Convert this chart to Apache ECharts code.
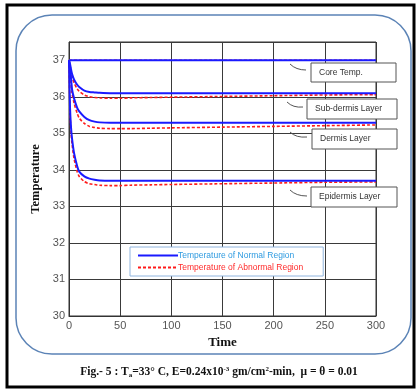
<!DOCTYPE html>
<html>
<head>
<meta charset="utf-8">
<script src="https://cdn.jsdelivr.net/npm/echarts@6/dist/echarts.min.js"></script>
<style>html,body{margin:0;padding:0;background:#fff;}#c{width:419px;height:392px;}</style>
</head>
<body>
<div id="c"></div>
<script>
// ---- data ----
var times = [0,1,2,3,5,8,10,15,20,25,30,40,50,60,80,100,150,200,250,300];
var coreNormal      = [37,37,37,37,37,37,37,37,37,37,37,37,37,37,37,37,37,37,37,37];
var coreAbnormal    = [37,37,37,37,37,37,37,37,37,37,37,37,37,37,37,37,37,37,37,37];
var subdermNormal   = [37,36.9,36.75,36.62,36.47,36.33,36.27,36.17,36.13,36.12,36.11,36.1,36.1,36.1,36.1,36.1,36.1,36.1,36.1,36.1];
var subdermAbnormal = [37,36.85,36.7,36.55,36.38,36.22,36.15,36.05,36.0,35.98,35.97,35.96,35.96,35.97,35.98,35.99,36.01,36.03,36.05,36.06];
var dermNormal      = [37,36.75,36.5,36.2,35.95,35.7,35.6,35.45,35.36,35.32,35.3,35.29,35.29,35.29,35.29,35.29,35.29,35.29,35.29,35.29];
var dermAbnormal    = [37,36.7,36.4,36.1,35.82,35.55,35.42,35.27,35.19,35.16,35.14,35.13,35.13,35.13,35.14,35.15,35.17,35.19,35.21,35.23];
var epiNormal       = [37,35.7,35.15,34.85,34.45,34.1,33.95,33.82,33.76,33.73,33.71,33.7,33.7,33.7,33.7,33.7,33.7,33.7,33.7,33.7];
var epiAbnormal     = [37,35.6,35.0,34.7,34.3,33.95,33.82,33.68,33.62,33.6,33.58,33.57,33.57,33.58,33.59,33.6,33.62,33.64,33.66,33.67];
var xTicks = [0,50,100,150,200,250,300];
var yTicks = [30,31,32,33,34,35,36,37];
var layerLabels = ['Core Temp.','Sub-dermis Layer','Dermis Layer','Epidermis Layer'];
var legendNames = ['Temperature of Normal Region','Temperature of Abnormal Region'];

function pairs(arr){ return times.map(function(t,i){ return [t, arr[i]]; }); }

var normalSets = [coreNormal, subdermNormal, dermNormal, epiNormal];
var abnormalSets = [coreAbnormal, subdermAbnormal, dermAbnormal, epiAbnormal];

var series = [];
abnormalSets.forEach(function(a){
  series.push({type:'line', name:legendNames[1], data:pairs(a), showSymbol:false, symbol:'none', smooth:0.25,
    lineStyle:{color:'#ff1a1a', width:1.6, type:[3,2]}, itemStyle:{color:'#ff1a1a'}, z:2, animation:false});
});
normalSets.forEach(function(a){
  series.push({type:'line', name:legendNames[0], data:pairs(a), showSymbol:false, symbol:'none', smooth:0.25,
    lineStyle:{color:'#1a1aff', width:2}, itemStyle:{color:'#1a1aff'}, z:3, animation:false});
});

// annotation boxes
var boxes = [
  {x:311, y:63, w:85, h:19, lead:[290,64,296,70,306,70]},
  {x:307, y:99, w:90, h:20, lead:[287,102,293,108,303,107]},
  {x:312, y:129, w:85, h:20, lead:[290,132,296,138,307,137]},
  {x:311, y:187, w:86, h:20, lead:[290,190,296,196,307,196]}
];
var graphics = [
  {type:'rect', shape:{x:7,y:5,width:407,height:382}, style:{fill:'none', stroke:'#000', lineWidth:3}, z:-10},
  {type:'rect', shape:{x:16,y:15,width:395,height:339,r:36}, style:{fill:'#fff', stroke:'#5b83b6', lineWidth:1.5}, z:-9},
  {type:'text', x:219, y:372, style:{
     text:'{a|Fig.- 5 : T}{s|a}{a|=33° C, E=0.24x10}{p|-3}{a| gm/cm}{p|2}{a|-min,  μ = θ = 0.01}',
     textAlign:'center', textVerticalAlign:'middle',
     rich:{
       a:{fontFamily:'Liberation Serif', fontWeight:'bold', fontSize:11.5, fill:'#111', lineHeight:13},
       s:{fontFamily:'Liberation Serif', fontWeight:'bold', fontSize:7, fill:'#111', lineHeight:13, verticalAlign:'bottom', padding:[4,0,0,0]},
       p:{fontFamily:'Liberation Serif', fontWeight:'bold', fontSize:7, fill:'#111', lineHeight:13, verticalAlign:'top', padding:[0,0,5,0]}
     }}, z:10}
];
boxes.forEach(function(b,i){
  graphics.push({type:'bezierCurve', shape:{x1:b.lead[0],y1:b.lead[1],cpx1:b.lead[2],cpy1:b.lead[3],x2:b.lead[4],y2:b.lead[5]},
    style:{stroke:'#555', lineWidth:1, fill:'none'}, z:20});
  graphics.push({type:'rect', shape:{x:b.x,y:b.y,width:b.w,height:b.h}, style:{fill:'#fff', stroke:'#555', lineWidth:1}, z:20});
  graphics.push({type:'text', x:b.x+8, y:b.y+b.h/2, style:{text:layerLabels[i], fill:'#333', fontSize:8.5, fontFamily:'Liberation Sans', textVerticalAlign:'middle'}, z:21});
});

var chart = echarts.init(document.getElementById('c'), null, {renderer:'canvas'});
chart.setOption({
  animation:false,
  backgroundColor:'#fff',
  grid:{left:69, right:43, top:42, bottom:76, show:true, borderColor:'#333', borderWidth:1, backgroundColor:'transparent'},
  xAxis:{type:'value', min:0, max:300, interval:50, name:'Time', nameLocation:'middle', nameGap:18,
    nameTextStyle:{fontFamily:'Liberation Serif', fontWeight:'bold', fontSize:13, color:'#111'},
    axisLine:{show:true, lineStyle:{color:'#333'}}, axisTick:{show:false},
    axisLabel:{color:'#555', fontSize:11, fontFamily:'Liberation Sans', margin:4,
      formatter:function(v){ return xTicks.indexOf(v)>=0 ? String(v) : ''; }},
    splitLine:{show:true, lineStyle:{color:'#3a3a3a', width:1}}},
  yAxis:{type:'value', min:30, max:37.5, interval:1, name:'Temperature', nameLocation:'middle', nameGap:25,
    nameTextStyle:{fontFamily:'Liberation Serif', fontWeight:'bold', fontSize:12.5, color:'#111'},
    axisLine:{show:true, lineStyle:{color:'#333'}}, axisTick:{show:false},
    axisLabel:{color:'#555', fontSize:11, fontFamily:'Liberation Sans', margin:4,
      formatter:function(v){ return yTicks.indexOf(v)>=0 ? String(v) : ''; }},
    splitLine:{show:true, lineStyle:{color:'#3a3a3a', width:1}}},
  legend:{orient:'vertical', left:130, top:247, itemWidth:40, itemHeight:8, itemGap:3,
    backgroundColor:'#fff', borderColor:'#8fb4de', borderWidth:1, borderRadius:0, padding:[4,20,4,7],
    selectedMode:false,
    itemStyle:{opacity:0},
    textStyle:{fontSize:8.5, fontFamily:'Liberation Sans', padding:[0,0,0,-5]},
    data:[{name:legendNames[0], textStyle:{color:'#2f9be0'}},{name:legendNames[1], textStyle:{color:'#ff2a2a'}}]},
  graphic:graphics,
  series:series
});
</script>
</body>
</html>
